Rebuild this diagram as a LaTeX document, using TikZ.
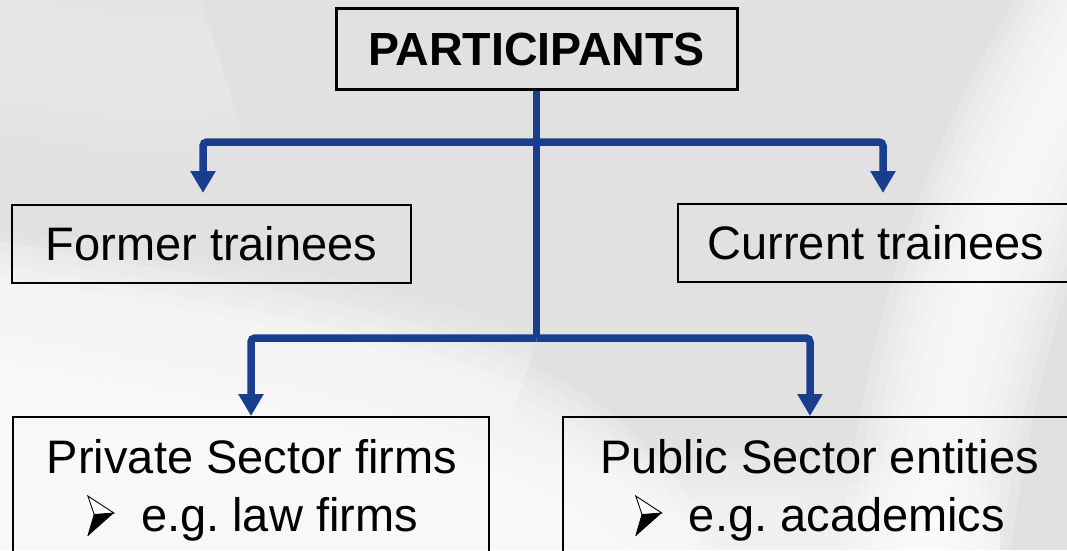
\documentclass[tikz,border=0pt]{standalone}
\usepackage{fontspec}
\setmainfont{Liberation Sans}
\usetikzlibrary{arrows.meta}
\definecolor{connblue}{RGB}{26,62,142}
\definecolor{bggray}{RGB}{225,225,225}
\tikzset{
  boxnode/.style={draw=black, line width=2pt, inner sep=0pt, text height=33.7pt, text depth=0pt, font=\fontsize{47}{56}\selectfont},
  txtnode/.style={inner sep=0pt, font=\fontsize{47}{56}\selectfont, anchor=base},
  conn/.style={draw=connblue, line width=7.5pt, rounded corners=4pt, -{Triangle[width=24pt,length=22pt]}},
  trunkline/.style={draw=connblue, line width=7.5pt},
  glow/.style={fill=white, opacity=0.16},
  arrowbullet/.pic={
    \filldraw[fill=white, draw=black, line width=0.9pt, line join=miter]
      (1,-35) -- (27,-18) -- (7.3,-16.5) -- cycle;
    \fill[black] (7.3,-16.5) -- (27,-18) -- (1,5) -- cycle;
    \draw[black, line width=0.9pt] (7.3,-16.5) -- (1,5);
  },
}
\begin{document}
\frenchspacing
\begin{tikzpicture}[x=1pt,y=-1pt]
\useasboundingbox (0,0) rectangle (1067,550);
\clip (0,0) rectangle (1067,550);
% background
\fill[bggray] (0,0) rectangle (1067,550);
\foreach \w in {200,170,...,20}{
  \draw[white, opacity=0.04, line width=\w pt] (-40,40) .. controls (80,60) and (160,80) .. (220,60);
}
\foreach \d in {0,12,...,120}{
  \begin{scope}[yshift=-\d pt]
    \fill[glow] (-60,230) .. controls (150,270) and (400,300) .. (540,370)
      .. controls (640,420) and (700,480) .. (740,620) -- (-60,620) -- cycle;
  \end{scope}
}
\foreach \d in {0,10,...,60}{
  \begin{scope}[yshift=-\d pt]
    \fill[white, opacity=0.12] (500,470) .. controls (650,440) and (850,440) .. (1000,480)
      -- (1000,620) -- (500,620) -- cycle;
  \end{scope}
}
\foreach \w in {170,150,...,10}{
  \draw[white, opacity=0.18, line width=\w pt]
    (1120,-10) .. controls (1020,150) and (950,300) .. (920,600);
}
\foreach \w in {120,100,...,20}{
  \draw[white, opacity=0.09, line width=\w pt]
    (-40,290) .. controls (150,300) and (350,330) .. (520,390);
}
% nodes
\node[boxnode, line width=3pt, minimum width=401pt, minimum height=81pt, font=\fontsize{46.5}{56}\bfseries\selectfont, text height=33.3pt]
  (top) at (536.5,48.5) {PARTICIPANTS};
\node[boxnode, minimum width=399pt, minimum height=78pt] (former) at (211.5,244) {Former trainees};
\node[boxnode, minimum width=396pt, minimum height=78pt] (current) at (876,243) {Current trainees};
\node[boxnode, anchor=north, minimum width=476pt, minimum height=160pt] (private) at (251,416) {};
\node[boxnode, anchor=north, minimum width=513pt, minimum height=160pt] (public) at (819.5,416) {};
\node[txtnode] (privA) at (252,473) {Private Sector firms};
\node[txtnode] (privB) at (252.5,531) {\hspace*{54pt}e.g. law firms};
\node[txtnode] (pubA) at (819.5,473) {Public Sector entities};
\node[txtnode] (pubB) at (820,531) {\hspace*{54pt}e.g. academics};
\pic at (privB.base west) {arrowbullet};
\pic at (pubB.base west) {arrowbullet};
% connectors
\coordinate (j1) at (536.5,142);
\coordinate (j2) at (536.5,338);
\coordinate (ftip) at (203,193);
\coordinate (ctip) at (883,193);
\coordinate (pubtip) at (810,416);
\draw[trunkline] (top.south) -- (j2);
\draw[conn] (j1) -| (ftip);
\draw[conn] (j1) -| (ctip);
\draw[conn] (j2) -| (private.north);
\draw[conn] (j2) -| (pubtip);
\end{tikzpicture}
\end{document}
